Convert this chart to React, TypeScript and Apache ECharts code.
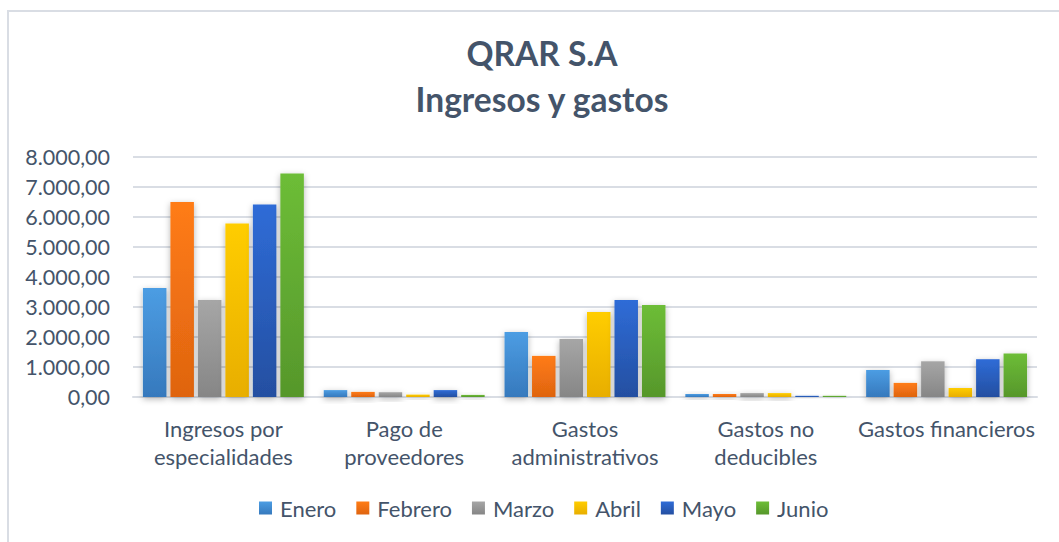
import React, { useEffect, useRef } from "react";
import * as echarts from "echarts";

const categories = [
  "Ingresos por\nespecialidades",
  "Pago de\nproveedores",
  "Gastos\nadministrativos",
  "Gastos no\ndeducibles",
  "Gastos financieros",
];
const months = ["Enero", "Febrero", "Marzo", "Abril", "Mayo", "Junio"];
const enero = [3630, 230, 2170, 100, 900];
const febrero = [6500, 170, 1370, 100, 470];
const marzo = [3230, 160, 1930, 130, 1190];
const abril = [5780, 80, 2830, 130, 300];
const mayo = [6420, 230, 3230, 40, 1260];
const junio = [7450, 70, 3070, 40, 1450];
const seriesValues = [enero, febrero, marzo, abril, mayo, junio];
const gradients = [
  ["#4c9de3", "#3679bd"],
  ["#ff7c15", "#df6410"],
  ["#a6a6a6", "#868686"],
  ["#ffcd00", "#e8ae00"],
  ["#2f6cd7", "#244fa1"],
  ["#6dbd37", "#56972b"],
];
const titleLines = ["QRAR S.A", "Ingresos y gastos"];

const FONT = "Lato, 'Noto Sans', sans-serif";
const TEXT = "#44546a";

function fmt(v: number): string {
  const fixed = v.toFixed(2);
  const [intPart, dec] = fixed.split(".");
  const withDots = intPart.replace(/\B(?=(\d{3})+(?!\d))/g, ".");
  return withDots + "," + dec;
}

export default function App() {
  const ref = useRef<HTMLDivElement>(null);
  useEffect(() => {
    if (!ref.current) return;
    const chart = echarts.init(ref.current, null, { renderer: "svg" });
    chart.setOption({
      animation: false,
      backgroundColor: "#ffffff",
      textStyle: { fontFamily: FONT },
      graphic: [
        {
          type: "rect",
          shape: { x: 8, y: 11, width: 1100, height: 600 },
          style: { fill: "none", stroke: "#d9dde4", lineWidth: 2 },
          silent: true,
        },
      ],
      title: {
        text: titleLines.join("\n"),
        left: 537,
        top: 25,
        textAlign: "center",
        textStyle: {
          fontFamily: FONT,
          fontSize: 33.5,
          fontWeight: "bold",
          color: TEXT,
          lineHeight: 46,
        },
      },
      legend: {
        data: months,
        bottom: 18,
        left: 254,
        itemWidth: 13,
        itemHeight: 13,
        itemGap: 20,
        icon: "rect",
        textStyle: {
          fontFamily: FONT,
          fontSize: 22,
          color: TEXT,
          padding: [0, 0, 0, 3],
        },
      },
      grid: { left: 133, right: 22, top: 157, bottom: 145, containLabel: false },
      xAxis: {
        type: "category",
        data: categories,
        axisLine: { show: true, lineStyle: { color: "#d9dde4", width: 2 } },
        axisTick: { show: false },
        axisLabel: {
          fontFamily: FONT,
          fontSize: 22,
          color: TEXT,
          lineHeight: 28,
          margin: 17,
          interval: 0,
        },
      },
      yAxis: {
        type: "value",
        min: 0,
        max: 8000,
        interval: 1000,
        axisLine: { show: false },
        axisTick: { show: false },
        splitLine: { lineStyle: { color: "#d9dde4", width: 2 } },
        axisLabel: {
          fontFamily: FONT,
          fontSize: 21.5,
          color: TEXT,
          margin: 23,
          formatter: (v: number) => fmt(v),
        },
      },
      series: months.map((m, i) => ({
        name: m,
        type: "bar",
        data: seriesValues[i],
        barGap: "17%",
        barCategoryGap: "11%",
        itemStyle: {
          color: new echarts.graphic.LinearGradient(0, 0, 0, 1, [
            { offset: 0, color: gradients[i][0] },
            { offset: 1, color: gradients[i][1] },
          ]),
          shadowBlur: 6,
          shadowColor: "rgba(0,0,0,0.3)",
          shadowOffsetY: 2,
        },
      })),
    });
    return () => chart.dispose();
  }, []);
  return (
    <div
      ref={ref}
      style={{ position: "absolute", left: 0, top: 0, width: 1059, height: 542 }}
    />
  );
}
